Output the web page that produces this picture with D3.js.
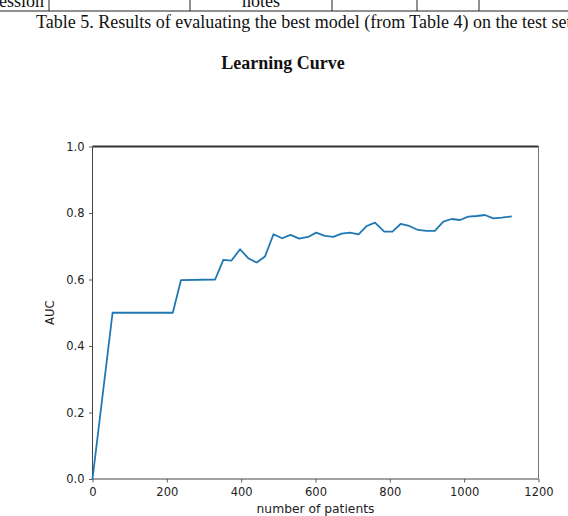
<!DOCTYPE html>
<html>
<head>
<meta charset="utf-8">
<script src="https://cdn.jsdelivr.net/npm/d3@7"></script>
<style>
  body { margin: 0; background: #fff; }
  svg { display: block; }
</style>
</head>
<body>
<div id="chart"></div>
<script>
// values
const patients = [0, 54, 216, 238, 330, 352, 374, 397, 419, 442, 464, 487, 510, 533, 556, 580,
  602, 625, 648, 670, 693, 716, 738, 760, 785, 807, 829, 852, 876, 899, 921, 944, 966,
  989, 1011, 1034, 1056, 1078, 1101, 1128];
const auc = [0, 0.5, 0.5, 0.598, 0.6, 0.659, 0.657, 0.691, 0.664, 0.651, 0.669, 0.736, 0.724,
  0.734, 0.723, 0.728, 0.741, 0.731, 0.728, 0.738, 0.741, 0.736, 0.761, 0.771, 0.744, 0.744,
  0.767, 0.761, 0.749, 0.746, 0.746, 0.774, 0.782, 0.779, 0.789, 0.791, 0.794, 0.784, 0.786, 0.79];
const xTicks = [0, 200, 400, 600, 800, 1000, 1200];
const yTicks = [0, 0.2, 0.4, 0.6, 0.8, 1.0];
const tableColumns = [49, 190, 332, 417, 479];

const caption = "Table 5. Results of evaluating the best model (from Table 4) on the test set";
const title = "Learning Curve";

let totalWidth = 568;
let totalHeight = 516;
let margin = { top: 146.5, right: 29.5, bottom: 37, left: 92.5 };
let width = totalWidth - margin.left - margin.right;
let height = totalHeight - margin.top - margin.bottom;
let lineColor = "#1f77b4";
let sansFont = "'DejaVu Sans', sans-serif";
let serifFont = "'Liberation Serif', 'Times New Roman', serif";

let data = patients.map((p, i) => ({ n: p, value: auc[i] }));

let svg = d3.select("#chart").append("svg")
  .attr("width", totalWidth)
  .attr("height", totalHeight);

// bit of the table above the caption
svg.append("line")
  .attr("x1", 0).attr("x2", totalWidth)
  .attr("y1", 11).attr("y2", 11)
  .attr("stroke", "#222").attr("stroke-width", 1);
svg.selectAll("line.col")
  .data(tableColumns)
  .enter().append("line")
  .attr("class", "col")
  .attr("x1", d => d).attr("x2", d => d)
  .attr("y1", 0).attr("y2", 11)
  .attr("stroke", "#222").attr("stroke-width", 1);
svg.append("text")
  .attr("x", -1).attr("y", 7)
  .attr("font-family", serifFont).attr("font-size", 18)
  .attr("fill", "#111")
  .text("ession");
svg.append("text")
  .attr("x", 261).attr("y", 7)
  .attr("text-anchor", "middle")
  .attr("font-family", serifFont).attr("font-size", 18)
  .attr("fill", "#111")
  .text("notes");

svg.append("text")
  .attr("x", 36).attr("y", 28)
  .attr("font-family", serifFont).attr("font-size", 18)
  .attr("fill", "#111")
  .text(caption);

svg.append("text")
  .attr("x", 283).attr("y", 69)
  .attr("text-anchor", "middle")
  .attr("font-family", serifFont).attr("font-size", 18)
  .attr("font-weight", "bold")
  .attr("fill", "#111")
  .text(title);

let g = svg.append("g")
  .attr("transform", `translate(${margin.left}, ${margin.top})`);

let x = d3.scaleLinear().domain([0, 1200]).range([0, width]);
let y = d3.scaleLinear().domain([0, 1]).range([height, 0]);

let xAxis = d3.axisBottom(x).tickValues(xTicks).tickFormat(d3.format("d")).tickSize(3.5).tickPadding(5);
let yAxis = d3.axisLeft(y).tickValues(yTicks).tickFormat(d3.format(".1f")).tickSize(3.5).tickPadding(4.5);

let gx = g.append("g")
  .attr("transform", `translate(0, ${height})`)
  .call(xAxis);
let gy = g.append("g").call(yAxis);

[gx, gy].forEach(a => {
  a.select(".domain").remove();
  a.selectAll("line").attr("stroke", "#333").attr("stroke-width", 0.8);
  a.selectAll("text")
    .attr("font-family", sansFont)
    .attr("font-size", 11.5)
    .attr("fill", "#222");
});

// spines
g.append("line").attr("x1", 0).attr("x2", width).attr("y1", height).attr("y2", height)
  .attr("stroke", "#444").attr("stroke-width", 1);
g.append("line").attr("x1", 0).attr("x2", 0).attr("y1", 0).attr("y2", height)
  .attr("stroke", "#444").attr("stroke-width", 1);
g.append("line").attr("x1", width).attr("x2", width).attr("y1", 0).attr("y2", height)
  .attr("stroke", "#777").attr("stroke-width", 1);
g.append("line").attr("x1", 0).attr("x2", width).attr("y1", 0).attr("y2", 0)
  .attr("stroke", "#333").attr("stroke-width", 2);

g.append("path")
  .datum(data)
  .attr("fill", "none")
  .attr("stroke", lineColor)
  .attr("stroke-width", 1.8)
  .attr("stroke-linejoin", "round")
  .attr("d", d3.line().x(d => x(d.n)).y(d => y(d.value)));

g.append("text")
  .attr("x", (x(0) + x(1200)) / 2)
  .attr("y", height + 34)
  .attr("text-anchor", "middle")
  .attr("font-family", sansFont)
  .attr("font-size", 12.3)
  .attr("fill", "#222")
  .text("number of patients");

g.append("text")
  .attr("transform", `translate(-39, ${y(0.5)}) rotate(-90)`)
  .attr("text-anchor", "middle")
  .attr("font-family", sansFont)
  .attr("font-size", 11.5)
  .attr("fill", "#222")
  .text("AUC");
</script>
</body>
</html>
